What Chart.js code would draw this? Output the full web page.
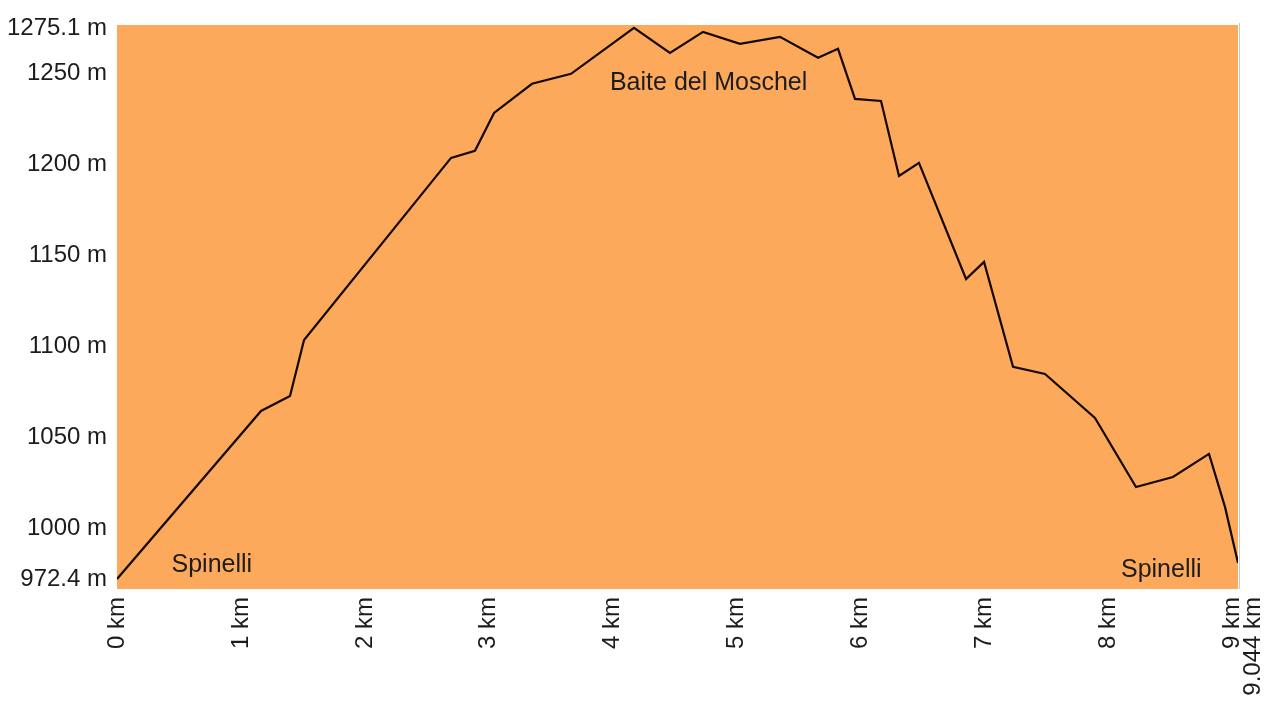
<!DOCTYPE html>
<html>
<head>
<meta charset="utf-8">
<script src="https://cdn.jsdelivr.net/npm/chart.js@4.4.0/dist/chart.umd.min.js"></script>
<style>
html, body { margin: 0; padding: 0; background: #fff; }
</style>
</head>
<body>
<canvas id="profile" width="1275" height="704"></canvas>
<script>
// 1 DATA
// distance along the track (km)
const distKm = [0, 1.162, 1.396, 1.509, 2.695, 2.888, 3.042, 3.348, 3.663, 4.171,
    4.461, 4.728, 5.026, 5.349, 5.656, 5.817, 5.954, 6.164, 6.309, 6.470,
    6.850, 6.995, 7.229, 7.487, 7.890, 8.221, 8.519, 8.810, 8.939, 9.044];
// elevation (m)
const altM = [972.4, 1064.7, 1072.9, 1103.7, 1203.7, 1207.6, 1228.4, 1244.4, 1249.9, 1275.1,
    1261.4, 1272.9, 1266.4, 1270.2, 1258.7, 1263.6, 1236.1, 1235.0, 1193.8, 1201.0,
    1137.2, 1146.6, 1088.9, 1085.0, 1060.9, 1022.9, 1028.4, 1041.1, 1012.0, 981.2];
// axis ticks
const kmTicks = [0, 1, 2, 3, 4, 5, 6, 7, 8, 9];
const altTicks = [972.4, 1000, 1050, 1100, 1150, 1200, 1250, 1275.1];
const totalKm = 9.044;
// place names along the route
const placeNames = ['Spinelli', 'Baite del Moschel', 'Spinelli'];

// 2 STYLE
const FONT = "'Liberation Sans', Arial, sans-serif";
const TEXT = '#1c1c1c';
const ORANGE = '#fca95b';

// 3 PLUGINS
const background = {
    id: 'background',
    beforeDraw(chart) {
        const { ctx, chartArea: a } = chart;
        ctx.save();
        ctx.fillStyle = ORANGE;
        ctx.fillRect(a.left, a.top, a.right - a.left, a.bottom - a.top);
        // thin grey frame line on the right
        ctx.strokeStyle = '#c8c8c8';
        ctx.lineWidth = 1;
        ctx.beginPath();
        ctx.moveTo(a.right + 1.5, a.top - 2);
        ctx.lineTo(a.right + 1.5, a.bottom);
        ctx.stroke();
        ctx.restore();
    }
};

// where the place names sit (km, m)
const placeSpots = [[0.44, 980], [3.977, 1245], [8.10, 977.3]];
const places = {
    id: 'places',
    afterDatasetsDraw(chart) {
        const { ctx, scales: { x, y } } = chart;
        ctx.save();
        ctx.font = '25px ' + FONT;
        ctx.fillStyle = TEXT;
        ctx.textAlign = 'left';
        ctx.textBaseline = 'middle';
        placeNames.forEach((name, i) => {
            const [km, m] = placeSpots[i];
            ctx.fillText(name, x.getPixelForValue(km), y.getPixelForValue(m));
        });
        ctx.restore();
    }
};

// 4 CHART
const ctx = document.querySelector('#profile').getContext('2d');
const chart = new Chart(ctx, {
    type: 'line',
    data: {
        datasets: [{
            data: distKm.map((d, i) => ({ x: d, y: altM[i] })),
            borderColor: '#140800',
            borderWidth: 2.2,
            pointRadius: 0,
            fill: false,
            tension: 0
        }]
    },
    options: {
        responsive: false,
        animation: false,
        layout: { padding: { top: 25, right: 37, left: 0, bottom: 0 } },
        plugins: { legend: { display: false }, tooltip: { enabled: false } },
        scales: {
            x: {
                type: 'linear',
                min: 0,
                max: totalKm,
                grid: { display: false, drawTicks: false },
                border: { display: false },
                afterBuildTicks: s => { s.ticks = kmTicks.map(v => ({ value: v })); },
                afterFit: s => { s.height = 115; s.paddingLeft = 0; s.paddingRight = 0; },
                ticks: {
                    autoSkip: false,
                    minRotation: 90,
                    maxRotation: 90,
                    padding: 8,
                    color: TEXT,
                    font: { family: FONT, size: 24, lineHeight: 0.875 },
                    callback: v => v === kmTicks[kmTicks.length - 1]
                        ? [v + ' km', totalKm + ' km']
                        : v + ' km'
                }
            },
            y: {
                type: 'linear',
                min: 966.9,
                max: 1276.7,
                grid: { display: false, drawTicks: false },
                border: { display: false },
                afterBuildTicks: s => { s.ticks = altTicks.map(v => ({ value: v })); },
                afterFit: s => { s.width = 117; s.paddingTop = 0; s.paddingBottom = 0; },
                ticks: {
                    padding: 10,
                    color: TEXT,
                    font: { family: FONT, size: 24 },
                    callback: v => v + ' m'
                }
            }
        }
    },
    plugins: [background, places]
});
</script>
</body>
</html>
